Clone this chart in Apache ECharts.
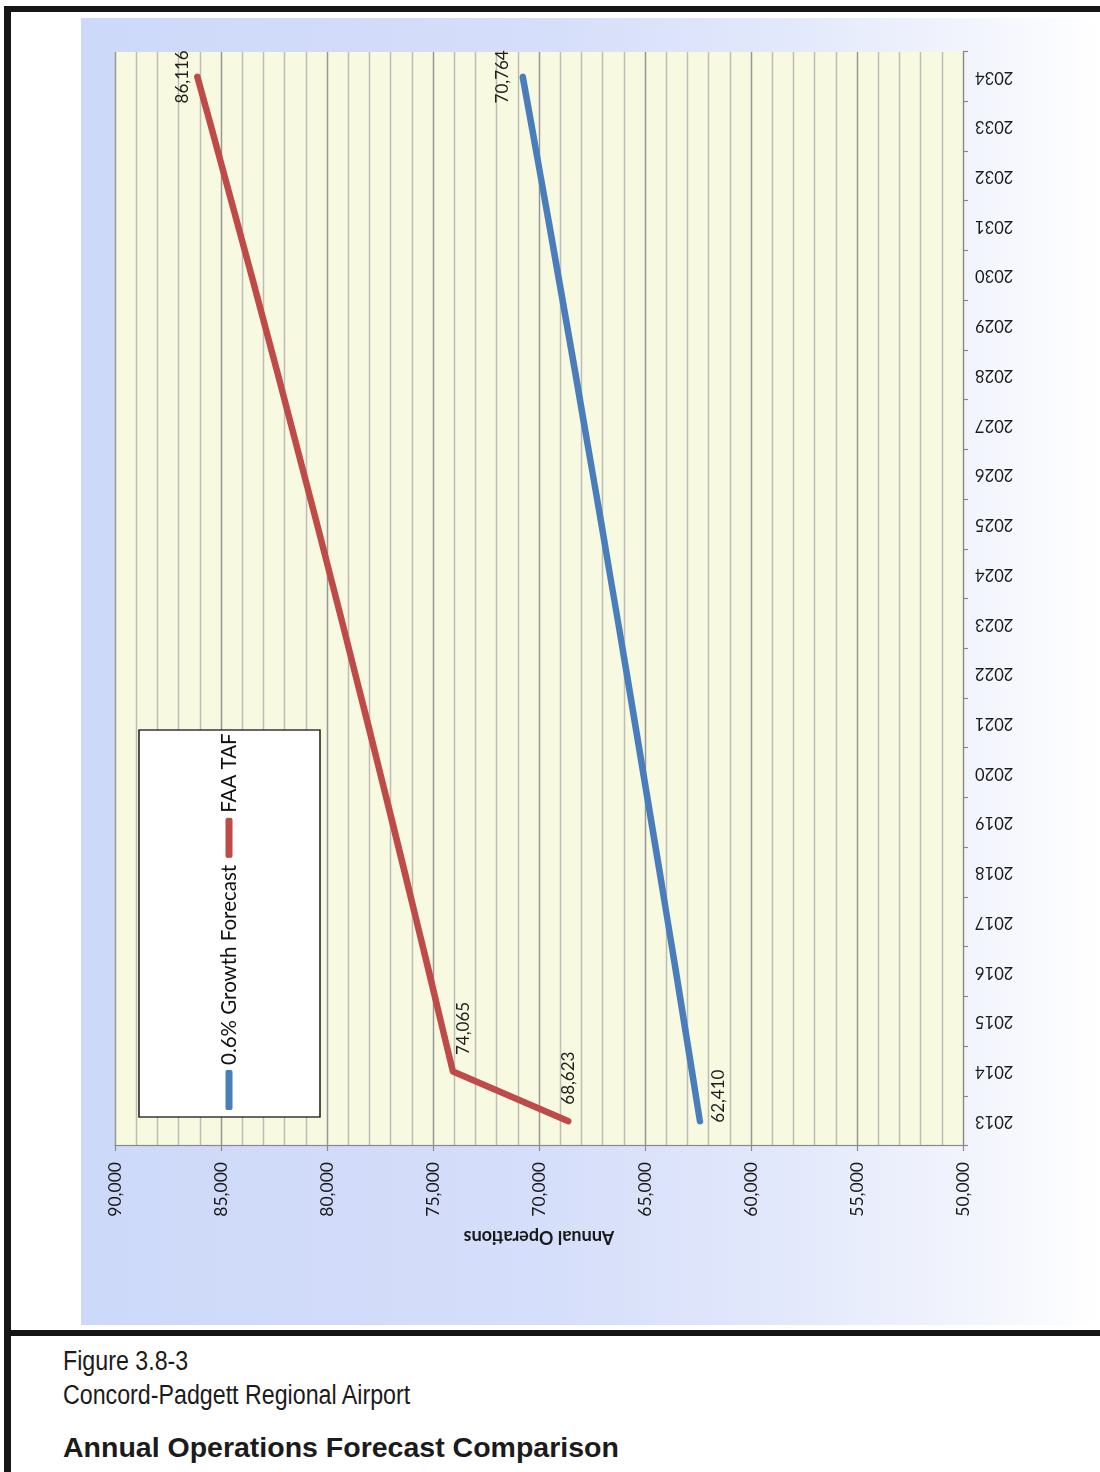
<!DOCTYPE html>
<html>
<head>
<meta charset="utf-8">
<script src="https://cdn.jsdelivr.net/npm/echarts@6/dist/echarts.min.js"></script>
<style>
  html, body { margin: 0; padding: 0; background: #fff; }
  body { width: 1100px; height: 1472px; position: relative; overflow: hidden; font-family: "Liberation Sans", Arial, sans-serif; }
  /* the chart is laid out in landscape and turned a quarter turn counter-clockwise onto the page */
  #chart { position: absolute; left: 81px; top: 1325px; width: 1307px; height: 1019px; transform-origin: 0 0; transform: rotate(-90deg); }
  .rule { position: absolute; background: #161616; }
  .cap { position: absolute; left: 63px; color: #1b1b1b; white-space: nowrap; transform-origin: 0 50%; }
  .cap.sub { font-size: 27px; line-height: 30px; transform: scaleX(0.86); }
  .cap.title { font-size: 28.5px; line-height: 32px; font-weight: bold; }
</style>
</head>
<body>
<div class="rule" style="left:4px;top:6px;width:1096px;height:6px"></div>
<div class="rule" style="left:4px;top:6px;width:7px;height:1466px"></div>
<div class="rule" style="left:4px;top:1330px;width:1096px;height:6px"></div>
<div id="chart"></div>
<div class="cap sub" style="top:1346px">Figure 3.8-3</div>
<div class="cap sub" style="top:1380px">Concord-Padgett Regional Airport</div>
<div class="cap title" style="top:1431px">Annual Operations Forecast Comparison</div>
<script>
// Forecast years
const years = ['2013', '2014', '2015', '2016', '2017', '2018', '2019', '2020', '2021', '2022', '2023',
               '2024', '2025', '2026', '2027', '2028', '2029', '2030', '2031', '2032', '2033', '2034'];

// Annual operations, 0.6% growth forecast
const growthForecast = [62410, 62784, 63161, 63540, 63921, 64305, 64691, 65079, 65469, 65862, 66257,
                        66655, 67055, 67457, 67862, 68269, 68679, 69091, 69505, 69922, 70342, 70764];

// Annual operations, FAA Terminal Area Forecast
const faaTaf = [68623, 74065, 74625, 75190, 75759, 76332, 76910, 77492, 78078, 78669, 79264,
                79863, 80468, 81076, 81690, 82308, 82931, 83558, 84190, 84827, 85469, 86116];

// Value axis range and step
const opsMin = 50000;
const opsMax = 90000;
const opsStep = 5000;

const seriesNames = ['0.6% Growth Forecast', 'FAA TAF'];

const FONT = 'Lato, "Open Sans", "DejaVu Sans", sans-serif';
const fmt = v => Number(v).toLocaleString('en-US');

// value labels are shown on the first points and the last point only
function withLabels(values, offsets) {
  return values.map((v, i) => {
    if (!(i in offsets)) return v;
    return {
      value: v,
      label: {
        show: true,
        position: 'inside',
        offset: offsets[i],
        formatter: p => fmt(p.value),
        fontFamily: FONT,
        fontSize: 17,
        color: '#1e1e1e'
      }
    };
  });
}

const chart = echarts.init(document.getElementById('chart'), null, { renderer: 'canvas' });

chart.setOption({
  animation: false,
  backgroundColor: {
    type: 'linear', x: 0, y: 0, x2: 0, y2: 1,
    colorStops: [
      { offset: 0, color: '#cdd9f9' },
      { offset: 0.45, color: '#d5defa' },
      { offset: 0.7, color: '#e3e9fb' },
      { offset: 0.88, color: '#f3f5fd' },
      { offset: 1, color: '#ffffff' }
    ]
  },
  textStyle: { fontFamily: FONT },
  grid: {
    left: 179, right: 34, top: 34, bottom: 137,
    show: true, backgroundColor: '#f8f9e1', borderWidth: 0
  },
  graphic: [{
    type: 'rect',
    z: 3,
    shape: { x: 208, y: 58, width: 387, height: 181 },
    style: { fill: '#ffffff', stroke: '#1a1a1a', lineWidth: 1.3 }
  }],
  legend: {
    data: seriesNames,
    left: 215, top: 136,
    padding: 0,
    itemGap: 7,
    itemWidth: 40,
    itemHeight: 7,
    icon: 'roundRect',
    textStyle: { fontFamily: FONT, fontSize: 20.5, color: '#111', lineHeight: 24 }
  },
  xAxis: {
    type: 'category',
    data: years,
    boundaryGap: true,
    axisLine: { show: true, lineStyle: { color: '#8a8a8a', width: 1.2 } },
    axisTick: { show: true, length: 5, lineStyle: { color: '#8a8a8a', width: 1.2 } },
    axisLabel: { interval: 0, rotate: 90, margin: 12, fontFamily: FONT, fontSize: 16.5, color: '#1a1a1a' },
    splitLine: { show: false }
  },
  yAxis: {
    type: 'value',
    min: opsMin,
    max: opsMax,
    interval: opsStep,
    name: 'Annual Operations',
    nameLocation: 'middle',
    nameGap: 76,
    nameTextStyle: { fontFamily: FONT, fontSize: 18, fontWeight: 'bold', color: '#1a1a1a' },
    axisLine: { show: true, lineStyle: { color: '#8a8a8a', width: 1.2 } },
    axisTick: { show: true, length: 5, lineStyle: { color: '#8a8a8a', width: 1.2 } },
    axisLabel: { margin: 16, fontFamily: FONT, fontSize: 17.5, color: '#1a1a1a', formatter: fmt },
    splitLine: { show: true, lineStyle: { color: '#979797', width: 1.3 } },
    minorTick: { show: false, splitNumber: 5 },
    minorSplitLine: { show: true, lineStyle: { color: '#bdbdb8', width: 1.3 } }
  },
  series: [
    {
      name: seriesNames[0],
      type: 'line',
      data: withLabels(growthForecast, { 0: [25, 19], 21: [0, -20] }),
      symbol: 'circle',
      symbolSize: 1,
      showSymbol: true,
      itemStyle: { color: '#4a7ebb' },
      lineStyle: { color: '#4a7ebb', width: 6.5, cap: 'round', join: 'round' },
      z: 2
    },
    {
      name: seriesNames[1],
      type: 'line',
      data: withLabels(faaTaf, { 0: [43, 0], 1: [43, 11], 21: [0, -15] }),
      symbol: 'circle',
      symbolSize: 1,
      showSymbol: true,
      itemStyle: { color: '#be4b48' },
      lineStyle: { color: '#be4b48', width: 6.5, cap: 'round', join: 'round' },
      z: 2
    }
  ]
});
</script>
</body>
</html>
